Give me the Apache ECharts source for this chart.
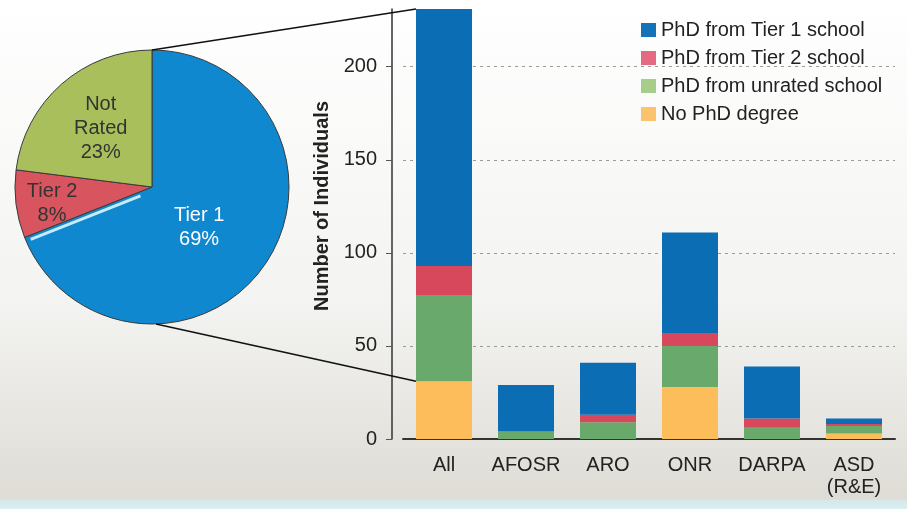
<!DOCTYPE html>
<html>
<head>
<meta charset="utf-8">
<script src="https://cdn.jsdelivr.net/npm/echarts@6/dist/echarts.min.js"></script>
<style>html,body{margin:0;padding:0;}#c,#tmp{width:907px;height:509px;}#tmp{position:absolute;left:-2000px;top:0;}</style>
</head>
<body>
<div id="c"></div>
<div id="tmp"></div>
<script>
// ---- data ----
const categories = ['All', 'AFOSR', 'ARO', 'ONR', 'DARPA', 'ASD\n(R&E)'];
const seriesNames = ['PhD from Tier 1 school', 'PhD from Tier 2 school', 'PhD from unrated school', 'No PhD degree'];
const tier1 = [138, 25, 28, 54, 28, 3];
const tier2 = [16, 0, 4, 7, 5, 1];
const unrated = [46, 4, 9, 22, 6, 4];
const noPhd = [31, 0, 0, 28, 0, 3];
const pieNames = ['Tier 1', 'Tier 2', 'Not\nRated'];
const pieValues = [tier1[0], tier2[0], unrated[0]];
const yTicks = [0, 50, 100, 150, 200];

const FONT = "'Liberation Sans', Arial, sans-serif";
const barColors = ['#0b6db4', '#d8485c', '#69a96b', '#fdbd5b'];
const legendColors = ['#1672b8', '#e46a82', '#a7cd8b', '#fbc36e'];
const pieColors = ['#0f88d0', '#d8555f', '#a9bf5c'];
const pieLabelColors = ['#ffffff', '#333333', '#333333'];
const pieCenter = [152, 187];
const pieRadius = 137;
const barW = 56;

const total = categories.map((_, i) => tier1[i] + tier2[i] + unrated[i] + noPhd[i]);
const yMax = Math.max.apply(null, total);

const stackData = [noPhd, unrated, tier2, tier1];
const stackIdx = [3, 2, 1, 0];
const barSeries = stackData.map((d, k) => ({
  type: 'bar',
  name: seriesNames[stackIdx[k]],
  stack: 'a',
  data: d,
  barWidth: barW,
  itemStyle: { color: barColors[stackIdx[k]] },
  z: 2
}));

const labelShift = [[-12, 0], [-29, 8], [-4, -5]];

const option = {
  backgroundColor: {
    type: 'linear', x: 0, y: 0, x2: 0, y2: 1,
    colorStops: [
      { offset: 0, color: '#ffffff' },
      { offset: 0.6, color: '#f3f3f1' },
      { offset: 0.98, color: '#dedcd5' },
      { offset: 0.983, color: '#d3e8ea' },
      { offset: 1, color: '#dbeef0' }
    ]
  },
  animation: false,
  textStyle: { fontFamily: FONT },
  legend: {
    orient: 'vertical',
    left: 636, top: 15,
    itemWidth: 15, itemHeight: 14,
    itemGap: 8,
    icon: 'rect',
    textStyle: { fontSize: 20, color: '#222', fontFamily: FONT },
    data: seriesNames.map((n, i) => ({ name: n, itemStyle: { color: legendColors[i] } }))
  },
  grid: { left: 403, right: 12, top: 9, bottom: 70 },
  xAxis: {
    type: 'category',
    data: categories,
    axisLine: { lineStyle: { color: '#333', width: 2 } },
    axisTick: { show: false },
    axisLabel: { fontSize: 20, color: '#222', margin: 15, lineHeight: 22, fontFamily: FONT, interval: 0 }
  },
  yAxis: {
    type: 'value',
    min: 0, max: yMax, interval: 50,
    offset: 11,
    name: 'Number of Individuals',
    nameLocation: 'middle',
    nameGap: 52,
    nameTextStyle: { fontSize: 20, fontWeight: 'bold', color: '#222', fontFamily: FONT, padding: [0, 0, 0, 36] },
    axisLine: { show: true, lineStyle: { color: '#333', width: 1.5 } },
    axisTick: { show: true, length: 6, lineStyle: { color: '#555' } },
    axisLabel: { fontSize: 20, color: '#222', margin: 15, fontFamily: FONT, showMaxLabel: false,
      formatter: v => (yTicks.indexOf(v) >= 0 ? String(v) : '') },
    splitLine: { show: true, showMaxLine: false, lineStyle: { color: '#9a9a9a', type: [3, 4], width: 1.2 } }
  },
  series: barSeries.concat([{
    type: 'pie',
    center: pieCenter,
    radius: pieRadius,
    startAngle: 90,
    clockwise: true,
    silent: true,
    data: pieNames.map((n, i) => ({
      name: n, value: pieValues[i],
      itemStyle: { color: pieColors[i] },
      label: { color: pieLabelColors[i] }
    })),
    itemStyle: { borderColor: '#3a3a3a', borderWidth: 1 },
    label: {
      position: 'inside',
      formatter: '{b}\n{d}%',
      fontSize: 20, lineHeight: 24, fontFamily: FONT
    },
    labelLayout: p => ({ dx: labelShift[p.dataIndex][0], dy: labelShift[p.dataIndex][1] }),
    labelLine: { show: false }
  }])
};

// measure axis pixel positions on a temporary chart, so the real chart is laid out once
const tmp = echarts.init(document.getElementById('tmp'));
tmp.setOption(option);
const topPt = tmp.convertToPixel({ xAxisIndex: 0, yAxisIndex: 0 }, [0, total[0]]);
const botPt = tmp.convertToPixel({ xAxisIndex: 0, yAxisIndex: 0 }, [0, noPhd[0]]);
tmp.dispose();
const barLeft = topPt[0] - barW / 2;

option.graphic = [
  { type: 'line', z: 10, shape: { x1: pieCenter[0], y1: pieCenter[1] - pieRadius, x2: barLeft, y2: topPt[1] },
    style: { stroke: '#111', lineWidth: 1.6 } },
  { type: 'line', z: 10, shape: { x1: pieCenter[0] + 4, y1: pieCenter[1] + pieRadius, x2: barLeft, y2: botPt[1] },
    style: { stroke: '#111', lineWidth: 1.6 } },
  // light highlight along the Tier 1 / Tier 2 boundary of the pie
  (function () {
    const frac = pieValues[0] / pieValues.reduce((a, b) => a + b, 0);
    const ang = Math.PI / 2 - frac * 2 * Math.PI;
    const r0 = 14, r1 = pieRadius - 5, off = 4;
    const ux = Math.cos(ang), uy = -Math.sin(ang);
    const nx = uy, ny = -ux;
    return { type: 'line', z: 10,
      shape: { x1: pieCenter[0] + ux * r0 + nx * off, y1: pieCenter[1] + uy * r0 + ny * off,
               x2: pieCenter[0] + ux * r1 + nx * off, y2: pieCenter[1] + uy * r1 + ny * off },
      style: { stroke: '#c4ecfb', lineWidth: 3 } };
  })()
];

const chart = echarts.init(document.getElementById('c'));
chart.setOption(option);
</script>
</body>
</html>
